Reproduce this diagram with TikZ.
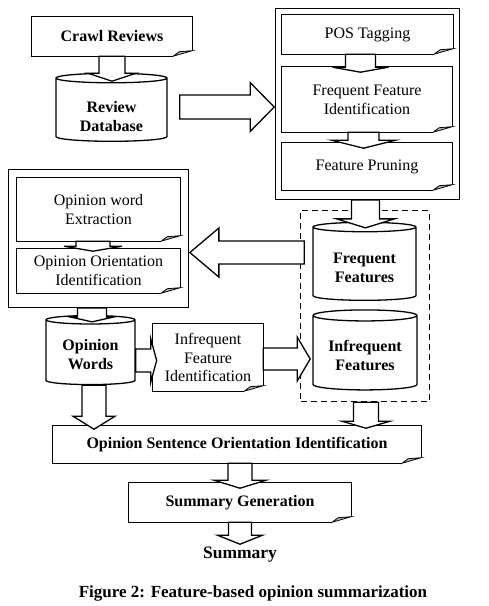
\documentclass[tikz,border=0pt]{standalone}
\usepackage{fontspec}
\setmainfont{Liberation Serif}
\usetikzlibrary{shapes.geometric,fit,calc}

\tikzset{
  boxline/.style={line width=1.3pt, draw=black},
  docbox/.style={rectangle, inner sep=0pt, align=center, font=\fontsize{16}{19}\selectfont},
  boldbox/.style={docbox, font=\fontsize{16}{19}\selectfont\bfseries},
  store/.style={cylinder, shape border rotate=90, aspect=0.15, draw, line width=1.3pt,
    align=center, inner sep=0pt, font=\fontsize{16}{19}\selectfont\bfseries},
  framebox/.style={draw, line width=1.3pt, inner sep=6pt},
  blockarrow/.style={line width=1.3pt, draw=black, fill=white},
}

% text of a store, set lower in the body
\newcommand{\storetext}[2]{\raisebox{-#1}[\height][\depth]{\begin{tabular}{@{}c@{}}#2\end{tabular}}}

% outline of a document box with its folded corner
\newcommand{\docframe}[1]{%
  \draw[boxline] ([xshift=-19pt]#1.south east) -- (#1.south west) -- (#1.north west)
    -- (#1.north east) -- ([yshift=5.5pt]#1.south east);
  \filldraw[boxline, line width=0.8pt, fill=gray!55] ([xshift=-19pt]#1.south east)
    -- ([xshift=-13pt,yshift=4.5pt]#1.south east) -- ([yshift=5.5pt]#1.south east) -- cycle;}

% wide arrow: start, tip, shaft half width, head half width, head length
\newcommand{\widearrow}[5]{%
  \coordinate (wa-s) at #1;
  \coordinate (wa-t) at #2;
  \coordinate (wa-h) at ($(wa-t)!#5!(wa-s)$);
  \filldraw[blockarrow] ($(wa-s)!#3!90:(wa-t)$) -- ($(wa-h)!#3!90:(wa-t)$)
    -- ($(wa-h)!#4!90:(wa-t)$) -- (wa-t) -- ($(wa-h)!#4!-90:(wa-t)$)
    -- ($(wa-h)!#3!-90:(wa-t)$) -- ($(wa-s)!#3!-90:(wa-t)$) -- cycle;}

\begin{document}
\begin{tikzpicture}[x=1pt, y=-1pt]
  \useasboundingbox (0,0) rectangle (489,606);

  % Crawling and the review database
  \node[boldbox, minimum width=160pt, minimum height=39pt] (crawl) at (112,36.5) {Crawl Reviews};
  \node[store, minimum width=111pt, minimum height=68pt] (db) at (111.5,110) {\storetext{8pt}{Review\\Database}};

  % Feature mining steps
  \node[docbox, minimum width=171pt, minimum height=39pt] (pos) at (367.5,34.5) {POS Tagging};
  \node[docbox, minimum width=170pt, minimum height=65pt] (ffi) at (367,99.5) {Frequent Feature\\Identification};
  \node[docbox, minimum width=170pt, minimum height=47pt] (prune) at (367,166.5) {Feature Pruning};
  \node[framebox, fit={(pos) (prune) ([yshift=-3pt]prune.south)}] (featbox) {};

  % Feature stores
  \node[store, minimum width=103pt, minimum height=78pt] (freq) at (364.5,264) {\storetext{5pt}{Frequent\\Features}};
  \node[store, minimum width=104pt, minimum height=80pt] (infreq) at (365,353) {\storetext{4.5pt}{Infrequent\\Features}};
  \node[draw, dash pattern=on 6pt off 4pt, line width=1.3pt, inner xsep=11.5pt, inner ysep=11pt, fit={(freq) (infreq)}] (featstore) {};

  % Opinion words
  \node[docbox, minimum width=163pt, minimum height=63pt] (owx) at (98.5,209.5) {Opinion word\\Extraction};
  \node[docbox, minimum width=163pt, minimum height=44pt] (ooi) at (98.5,271) {Opinion Orientation\\Identification};
  \node[framebox, inner sep=8pt, fit={(owx) (ooi) ([yshift=-6pt]ooi.south)}] (oribox) {};
  \node[store, minimum width=89pt, minimum height=69pt] (ow) at (90.5,352.5) {\storetext{3.5pt}{Opinion\\Words}};
  \node[docbox, minimum width=110pt, minimum height=67pt, font=\fontsize{16}{18.5}\selectfont] (ifi) at (208,357.5) {Infrequent\\Feature\\Identification};

  % Sentence orientation and summary
  \node[boldbox, minimum width=368pt, minimum height=37pt] (osoi) at (237,444.5) {Opinion Sentence Orientation Identification};
  \node[boldbox, minimum width=222pt, minimum height=39pt] (summgen) at (240,502.5) {Summary Generation};
  \node[boldbox, font=\fontsize{17.5}{20}\selectfont\bfseries] (summary) at (240,555) {Summary};
  \node[boldbox, font=\fontsize{17}{20}\selectfont\bfseries] (caption) at (253,593) {Figure 2: Feature-based opinion summarization};

  \docframe{crawl}
  \docframe{pos}
  \docframe{ffi}
  \docframe{prune}
  \docframe{owx}
  \docframe{ooi}
  \docframe{ifi}
  \docframe{osoi}
  \docframe{summgen}

  % Wide arrows
  \widearrow{(crawl.south)}{([yshift=-25pt]crawl.south)}{13pt}{24pt}{8pt}
  \coordinate (dbout) at ([xshift=12pt,yshift=3pt]db.east);
  \widearrow{(dbout)}{($(featbox.west |- dbout)+(-1,0)$)}{12pt}{24.5pt}{24pt}
  \widearrow{([xshift=-7pt]pos.south)}{([xshift=-7pt,yshift=-18pt]pos.south)}{15pt}{28pt}{5pt}
  \widearrow{([xshift=-3.5pt]ffi.south)}{([xshift=-3.5pt,yshift=-16pt]ffi.south)}{15.5pt}{32pt}{8pt}
  \widearrow{([xshift=-2pt]featbox.south)}{([xshift=-2pt,yshift=-28pt]featbox.south)}{14pt}{29pt}{9pt}
  \coordinate (storeout) at ($(featstore.north west)+(4,42.5)$);
  \widearrow{(storeout)}{($(oribox.east |- storeout)+(1,0)$)}{11.5pt}{24.5pt}{29pt}
  \widearrow{([xshift=-5.5pt]owx.south)}{([xshift=-5.5pt,yshift=-10pt]owx.south)}{17pt}{29pt}{5pt}
  \widearrow{([xshift=-6.5pt]oribox.south)}{([xshift=-6.5pt,yshift=-14pt]oribox.south)}{14.5pt}{22.5pt}{5pt}
  \widearrow{([yshift=-8pt]ow.east)}{([xshift=21pt,yshift=-8pt]ow.east)}{11.5pt}{22pt}{6pt}
  \widearrow{([yshift=-1.5pt]ifi.east)}{([xshift=47pt,yshift=-1.5pt]ifi.east)}{11pt}{22pt}{13pt}
  \widearrow{([xshift=3.5pt]ow.south)}{([xshift=3.5pt,yshift=-44pt]ow.south)}{12pt}{21pt}{13pt}
  \widearrow{([xshift=1pt]featstore.south)}{([xshift=1pt,yshift=-26pt]featstore.south)}{12.5pt}{24pt}{7pt}
  \widearrow{([xshift=3pt]osoi.south)}{([xshift=3pt,yshift=-25pt]osoi.south)}{12pt}{26pt}{8pt}
  \widearrow{(summgen.south)}{([yshift=-22pt]summgen.south)}{11.5pt}{22.5pt}{9pt}
\end{tikzpicture}
\end{document}
